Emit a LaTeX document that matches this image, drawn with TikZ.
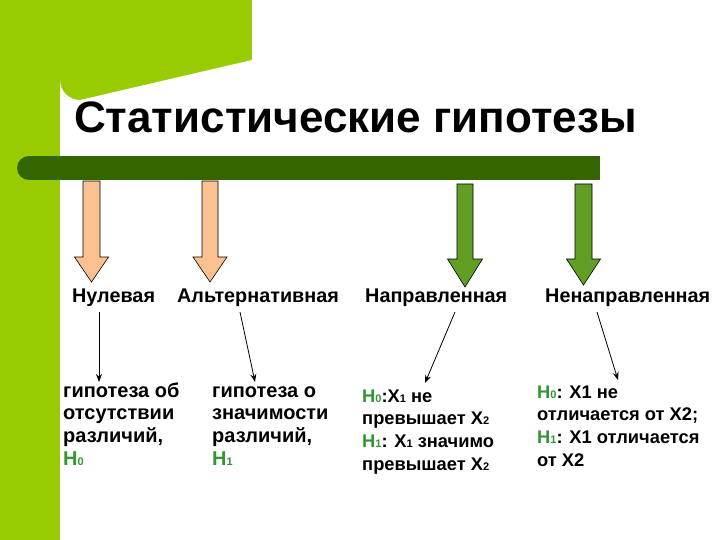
\documentclass[tikz,border=0pt]{standalone}
\usepackage{fontspec}
\setmainfont{Liberation Sans}
\usetikzlibrary{arrows.meta}
\definecolor{lgreen}{RGB}{153,204,0}
\definecolor{dgreen}{RGB}{51,102,0}
\definecolor{peach}{RGB}{250,192,144}
\definecolor{agreen}{RGB}{96,158,36}
\definecolor{tgreen}{RGB}{51,150,51}
\newcommand{\smidx}[1]{{\fontsize{11}{11}\selectfont #1}}
\newcommand{\gh}[1]{\textcolor{tgreen}{H\smidx{#1}}}
\newcommand{\blockarrow}[7]{% cx hw hh ytop yhead ytip color
  \filldraw[block, fill=#7] (#1-#2,#4) -- (#1+#2,#4) -- (#1+#2,#5) -- (#1+#3,#5) -- (#1,#6) -- (#1-#3,#5) -- (#1-#2,#5) -- cycle;}
\tikzset{
  lab/.style={font=\bfseries\fontsize{19.8}{19.8}\selectfont, anchor=base west, inner sep=0pt},
  body/.style={font=\bfseries\fontsize{18.3}{22.7}\selectfont, anchor=north west, inner sep=0pt, align=left},
  bodybig/.style={body, font=\bfseries\fontsize{20}{22.7}\selectfont},
  thin/.style={-{Stealth[length=8pt,width=6pt]}, line width=0.8pt},
  block/.style={draw=black, line width=0.6pt}
}
\begin{document}
\begin{tikzpicture}[x=1pt,y=-1pt]
\useasboundingbox (0,0) rectangle (720,540);
% background
\fill[lgreen] (0,0) rectangle (720,540);
\fill[white] (60,540) -- (60,80) arc[start angle=180,end angle=90,radius=20] -- (252,60) -- (252,0) -- (720,0) -- (720,540) -- cycle;
% title
\node[font=\bfseries\fontsize{44}{44}\selectfont, anchor=base west, inner sep=0pt] (title) at (74,133) {Статистические гипотезы};
% bar
\fill[dgreen, rounded corners=12pt] (17,156) rectangle (40,180);
\fill[dgreen] (28,156) rectangle (600,180);
% block arrows
\blockarrow{91.5}{8.5}{17}{181}{257}{282}{peach}
\blockarrow{210}{8}{17}{181}{257}{282}{peach}
\blockarrow{465}{8}{17.5}{184}{259}{287}{agreen}
\blockarrow{583.5}{8.5}{17}{184}{259}{285}{agreen}
% labels
\node[lab] (l1) at (72,302) {Нулевая};
\node[lab] (l2) at (177,302) {Альтернативная};
\node[lab] (l3) at (365,302) {Направленная};
\node[lab] (l4) at (545,302) {Ненаправленная};
% bodies (top = first baseline - 0.7*22.7)
\node[bodybig] (b1) at (63,381.1) {\strut гипотеза об\\отсутствии\\различий,\\\gh{0}};
\node[bodybig] (b2) at (212,381.1) {\strut гипотеза о\\значимости\\различий,\\\gh{1}};
\node[body] (b3) at (362,386.1) {\strut\gh{0}:X\smidx{1} не\\превышает X\smidx{2}\\\gh{1}: X\smidx{1} значимо\\превышает X\smidx{2}};
\node[body] (b4) at (537,382.1) {\strut\gh{0}: X1 не\\отличается от X2;\\\gh{1}: X1 отличается\\от X2};
% thin arrows
\coordinate (s1) at (99,312); \coordinate (e1) at (99,382);
\coordinate (s2) at (240,312); \coordinate (e2) at (255,382);
\coordinate (s3) at (455,312); \coordinate (e3) at (425,383);
\coordinate (s4) at (597,312); \coordinate (e4) at (618,380);
\draw[thin] (s1) -- (e1);
\draw[thin] (s2) -- (e2);
\draw[thin] (s3) -- (e3);
\draw[thin] (s4) -- (e4);
\end{tikzpicture}
\end{document}
